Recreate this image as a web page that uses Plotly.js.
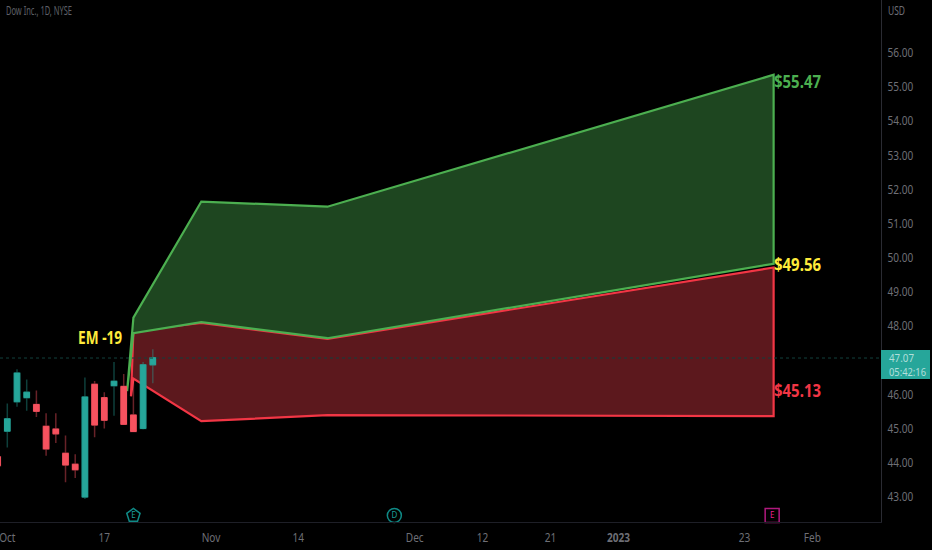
<!DOCTYPE html>
<html><head><meta charset="utf-8">
<script src="https://cdn.plot.ly/plotly-3.0.1.min.js"></script>
<style>html,body{margin:0;background:#000}</style></head>
<body><div id="chart" style="width:932px;height:550px"></div>
<script>
// Candles, one per trading day (index 0 = 3 Oct 2022)
const barIdx  = [-1,0,1,2,3,4,5,6,7,8,9,10,11,12,13,14,15];
const opens   = [44.18,44.93,45.79,45.91,45.71,45.07,44.99,44.28,43.96,43.00,46.30,45.91,46.26,46.24,45.40,45.01,46.87];
const highs   = [44.40,45.74,46.74,46.44,46.12,45.45,45.45,44.80,44.25,46.50,46.40,46.07,46.95,46.60,46.45,46.95,47.33];
const lows    = [43.70,44.45,45.64,45.53,45.34,44.21,44.58,43.43,43.56,42.94,44.75,45.01,45.38,45.12,44.92,44.98,46.33];
const closes  = [43.92,45.29,46.63,46.07,45.51,44.41,44.85,43.94,43.80,45.93,45.11,45.25,46.39,45.13,44.92,46.87,47.08];

// Expected-move cone
const greenX   = [12.35,13,20,33,79];
const upperEM  = [46.1,48.25,51.65,51.5,55.36];
const midGreen = [46.1,47.80,48.12,47.65,49.83];
const redX     = [12.75,13,20,33,79];
const midRed   = [45.95,47.86,48.10,47.63,49.72];
const lowerEM  = [45.95,46.47,45.22,45.4,45.37];

// Axis ticks
const xTickVals = [0,10,21,30,42,49,56,63,76,83];
const xTickText = ['Oct','17','Nov','14','Dec','12','21','<b>2023</b>','23','Feb'];
const yTicks = [43,44,45,46,48,49,50,51,52,53,54,55,56];
const lastPrice = 47.07;
const eventX = [13,39.9,78.85];
const eventY = [42.46,42.46,42.46];
const eventText = ['E','D','E'];

const FONT = '"Noto Sans",sans-serif';
const TEAL='#26a69a', RED='#f7525f', GRAY='#6e6f76';
const yRange=[42.27,57.55];

const wick = {
  type:'candlestick', x:barIdx, open:opens, high:highs, low:lows, close:closes, yaxis:'y2',
  increasing:{line:{color:'rgba(38,166,154,0.38)',width:1.5},fillcolor:'rgba(0,0,0,0)'},
  decreasing:{line:{color:'rgba(247,82,95,0.42)',width:1.5},fillcolor:'rgba(0,0,0,0)'}, hoverinfo:'skip'
};
const body = {
  type:'candlestick', x:barIdx, open:opens, close:closes, yaxis:'y2',
  high:opens.map((o,i)=>Math.max(o,closes[i])), low:opens.map((o,i)=>Math.min(o,closes[i])),
  increasing:{line:{color:TEAL,width:1},fillcolor:TEAL},
  decreasing:{line:{color:RED,width:1},fillcolor:RED}
};
const poly=(xs,a,b,line,fill)=>({
  type:'scatter',mode:'lines',x:xs.concat(xs.slice().reverse(),[xs[0]]),
  y:a.concat(b.slice().reverse(),[a[0]]),fill:'toself',fillcolor:fill,
  line:{color:line,width:2.2},hoverinfo:'skip'
});
const events = {
  type:'scatter',mode:'markers+text',x:eventX,y:eventY,text:eventText,
  textposition:'middle center',textfont:{family:FONT,size:8,color:['#1a9c98','#1a9c98','#e91e8c']},
  marker:{symbol:['pentagon-open','circle-open','square-open'],size:14,
    color:['#0f8a86','#0f8a86','#b0197e'],line:{width:1.5}},cliponaxis:false,hoverinfo:'skip'
};
const ann=(x,y,t,c,ax)=>({x,y,text:'<b>'+t+'</b>',xref:'x',yref:'y',showarrow:false,xanchor:ax||'left',
  font:{family:FONT,size:18,color:c}});
const pane=(x,y,t,s,c)=>({xref:'paper',yref:'paper',x,y,xanchor:'left',yanchor:'middle',text:t,showarrow:false,
  font:{family:FONT,size:s,color:c}});

Plotly.newPlot('chart',[poly(redX,midRed,lowerEM,'#f23645','#5c181d'),poly(greenX,upperEM,midGreen,'#4caf50','#1e4620'),events,wick,body],{
  width:932,height:550,margin:{l:0,r:51,t:0,b:28},paper_bgcolor:'#000',plot_bgcolor:'#000',
  showlegend:false,boxmode:'overlay',boxgap:0.18,
  xaxis:{range:[-0.753,90.07],tickvals:xTickVals,ticktext:xTickText,tickfont:{family:FONT,size:12,color:GRAY},ticklabeloverflow:'allow',
    showgrid:false,zeroline:false,ticks:'',showline:true,linecolor:'#1e1f27',linewidth:1,rangeslider:{visible:false},ticklabelstandoff:5},
  yaxis:{side:'right',range:yRange,tickvals:yTicks,ticktext:yTicks.map(v=>v.toFixed(2)),ticklabelstandoff:3,
    tickfont:{family:FONT,size:12,color:GRAY},showgrid:false,zeroline:false,ticks:'',showline:true,linecolor:'#2a2b32',linewidth:1},
  yaxis2:{overlaying:'y',side:'right',range:yRange,visible:false,showgrid:false,zeroline:false},
  shapes:[{type:'line',xref:'paper',x0:0,x1:1,yref:'y',y0:lastPrice,y1:lastPrice,line:{color:'#12403c',width:1,dash:'dot'}}],
  annotations:[
    ann(78.8,55.17,'$55.47','#4caf50'),
    ann(78.8,49.82,'$49.56','#ffeb3b'),
    ann(78.8,46.12,'$45.13','#f23645'),
    ann(12.05,47.70,'EM -19','#ffeb3b','right'),
    pane(0.004,0.979,'Dow Inc., 1D, NYSE',12.5,'#5f6068'),
    pane(1.006,0.979,'USD',12,GRAY),
    {xref:'paper',yref:'y',x:1,y:46.87,xanchor:'left',yanchor:'middle',text:' ',showarrow:false,width:49,height:29,bgcolor:TEAL,borderpad:0,borderwidth:0},
    {xref:'paper',yref:'y',x:1,xshift:7,y:47.07,xanchor:'left',yanchor:'middle',text:'47.07',showarrow:false,borderpad:0,font:{family:FONT,size:10.5,color:'#b2dfdb'}},
    {xref:'paper',yref:'y',x:1,xshift:7,y:46.66,xanchor:'left',yanchor:'middle',text:'05:42:16',showarrow:false,borderpad:0,font:{family:FONT,size:10.5,color:'#b2dfdb'}}
  ]
},{displayModeBar:false}).then(()=>{
  // the reference font is narrower than any installed one: condense glyphs to the measured widths
  const widths={'$55.47':47,'$49.56':47,'$45.13':47,'EM -19':44,'Dow Inc., 1D, NYSE':66,'USD':17,'47.07':25,'05:42:16':37};
  const squeeze=(el,w)=>{el.setAttribute('lengthAdjust','spacingAndGlyphs');el.setAttribute('textLength',w);};
  document.querySelectorAll('.annotation-text').forEach(el=>{
    const t=el.textContent.trim(), w=widths[t];
    if(!w) return;
    const shift=(el.getComputedTextLength()-w)/2, sign=t==='EM -19'?1:-1;
    squeeze(el,w);
    el.setAttribute('x',parseFloat(el.getAttribute('x'))+sign*shift);
  });
  document.querySelectorAll('.xtick text,.ytick text').forEach(el=>squeeze(el,el.getComputedTextLength()*0.84));
});
</script></body></html>
